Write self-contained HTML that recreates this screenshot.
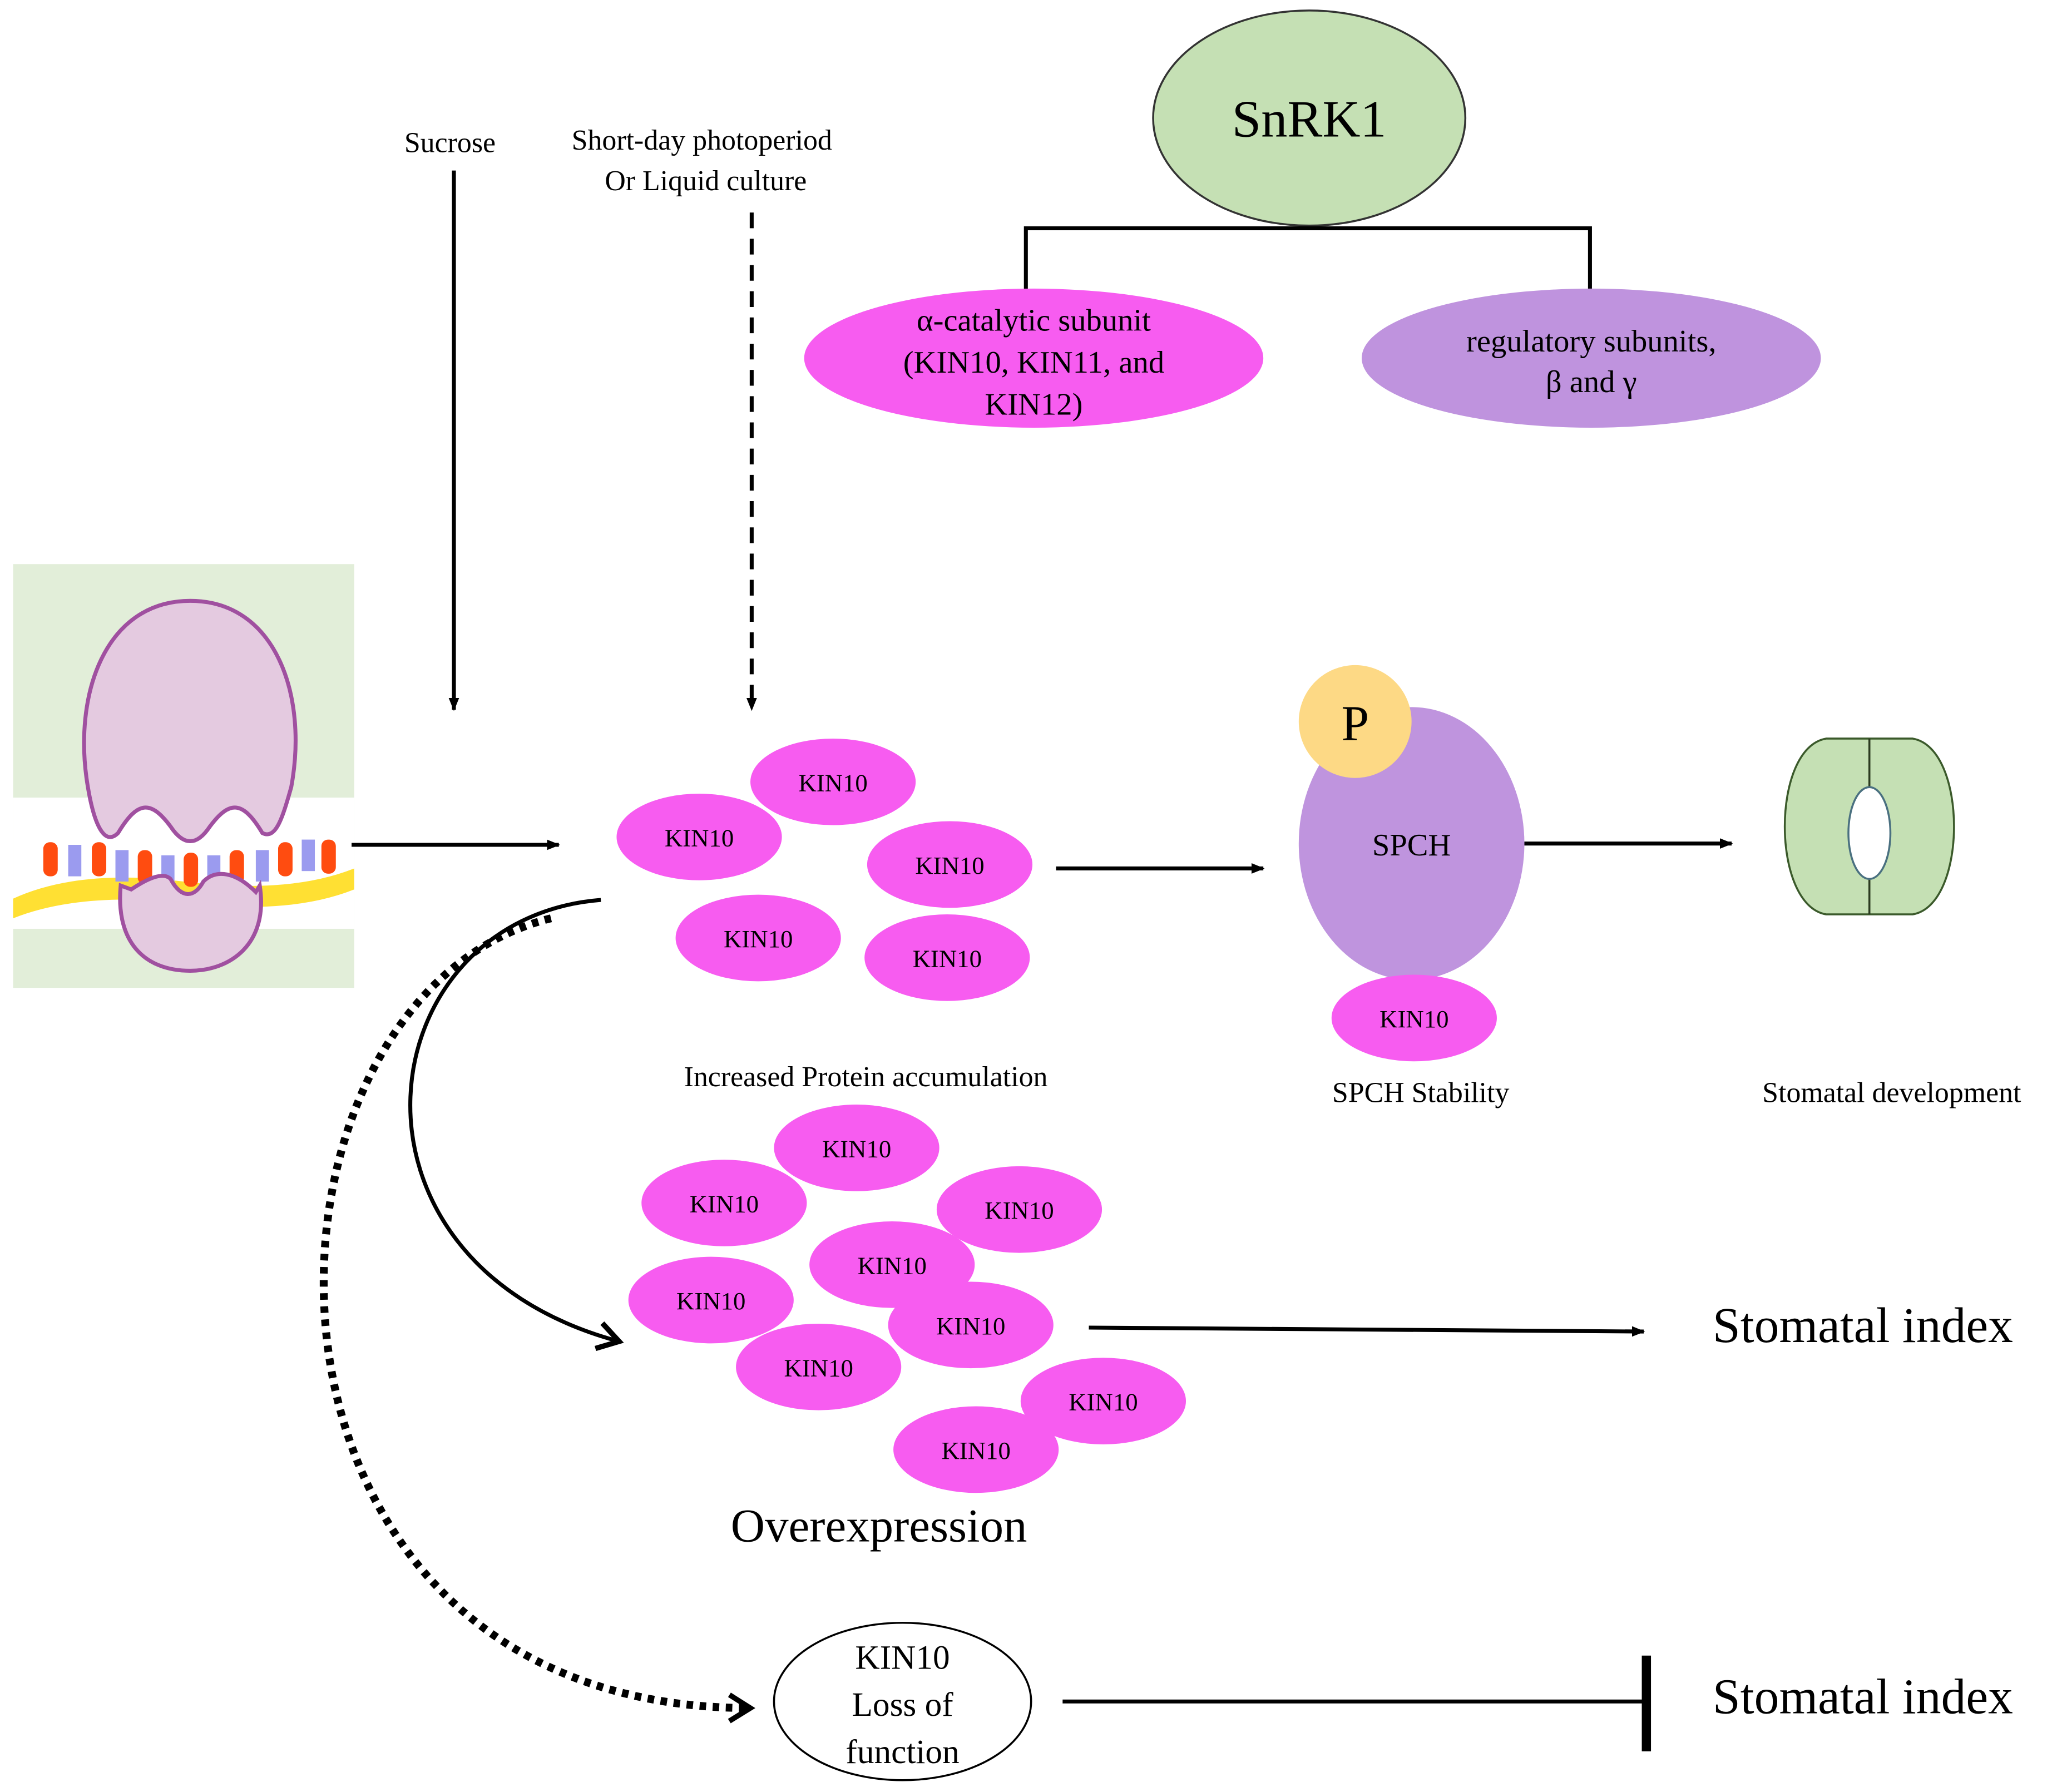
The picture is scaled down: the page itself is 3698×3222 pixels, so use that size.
<!DOCTYPE html>
<html><head><meta charset="utf-8"><style>html,body{margin:0;padding:0;background:#fff}svg{display:block}text{font-family:"Liberation Serif",serif}</style></head>
<body>
<svg width="3698" height="3222" viewBox="0 0 1568 1366" preserveAspectRatio="none" xmlns="http://www.w3.org/2000/svg">
<defs>
<marker id="ah" markerWidth="10" markerHeight="10" refX="9" refY="5" orient="auto" markerUnits="userSpaceOnUse"><path d="M0,1 L10,5 L0,9 z" fill="#000"/></marker>
<marker id="ao" markerWidth="24" markerHeight="24" refX="18" refY="12" orient="auto" markerUnits="userSpaceOnUse"><path d="M4,2 L20,12 L4,22" fill="none" stroke="#000" stroke-width="4"/></marker>
</defs>
<!-- membrane icon -->
<rect x="10" y="430" width="260" height="323" fill="#e2eed9"/>
<rect x="10" y="608" width="260" height="100" fill="#fff"/>
<path d="M10,685 Q60,662 140,672 Q220,682 270,662 L270,678 Q220,698 140,688 Q60,680 10,700 z" fill="#ffe033"/>
<path d="M67,600 C55,530 80,458 145,458 C210,458 235,530 222,600 C215,625 210,640 200,635 C185,610 175,610 160,630 C150,645 140,645 130,630 C115,610 105,610 90,635 C80,645 72,630 67,600 z" fill="#e4cae0" stroke="#a050a0" stroke-width="3"/>
<g fill="#ff4c10">
<rect x="33" y="642" width="11" height="26" rx="5"/><rect x="70" y="642" width="11" height="26" rx="5"/><rect x="105" y="648" width="11" height="26" rx="5"/><rect x="140" y="650" width="11" height="26" rx="5"/><rect x="175" y="648" width="11" height="26" rx="5"/><rect x="212" y="642" width="11" height="26" rx="5"/><rect x="245" y="640" width="11" height="26" rx="5"/>
</g>
<g fill="#9b9bef">
<rect x="52" y="644" width="10" height="24"/><rect x="88" y="648" width="10" height="24"/><rect x="123" y="652" width="10" height="24"/><rect x="158" y="652" width="10" height="24"/><rect x="195" y="648" width="10" height="24"/><rect x="230" y="640" width="10" height="24"/>
</g>
<path d="M92,675 L100,678 C115,668 125,665 130,670 C138,685 148,685 155,672 C165,662 180,665 195,680 L198,675 C205,720 175,740 145,740 C110,740 88,718 92,675 z" fill="#e4cae0" stroke="#a050a0" stroke-width="3"/>
<!-- SnRK1 -->
<ellipse cx="998" cy="90" rx="119" ry="82" fill="#c5e0b4" stroke="#333" stroke-width="1.5"/>
<text x="998" y="104" font-size="40" text-anchor="middle">SnRK1</text>
<path d="M782,222 V174 H1212 V222" fill="none" stroke="#000" stroke-width="3"/>
<ellipse cx="788" cy="273" rx="175" ry="53" fill="#f75cf0"/>
<g font-size="24" text-anchor="middle"><text x="788" y="252">α-catalytic subunit</text><text x="788" y="284">(KIN10, KIN11, and</text><text x="788" y="316">KIN12)</text></g>
<ellipse cx="1213" cy="273" rx="175" ry="53" fill="#bf93de"/>
<g font-size="24" text-anchor="middle"><text x="1213" y="268">regulatory subunits,</text><text x="1213" y="299">β and γ</text></g>
<!-- inputs -->
<g font-size="22" text-anchor="middle"><text x="343" y="116">Sucrose</text><text x="535" y="114">Short-day photoperiod</text><text x="538" y="145">Or Liquid culture</text></g>
<g stroke="#000" stroke-width="3" fill="none">
<line x1="346" y1="130" x2="346" y2="541" marker-end="url(#ah)"/>
<line x1="573" y1="162" x2="573" y2="541" stroke-dasharray="12 8" marker-end="url(#ah)"/>
<line x1="268" y1="644" x2="426" y2="644" marker-end="url(#ah)"/>
<line x1="805" y1="662" x2="963" y2="662" marker-end="url(#ah)"/>
<line x1="1162" y1="643" x2="1320" y2="643" marker-end="url(#ah)"/>
<line x1="830" y1="1012" x2="1253" y2="1015" marker-end="url(#ah)"/>
<path d="M458,686 C280,700 245,960 470,1022" stroke-width="3" marker-end="url(#ao)"/>
<path d="M420,700 C175,760 160,1300 570,1302" stroke-width="6" stroke-dasharray="5 5" marker-end="url(#ao)"/>
<line x1="810" y1="1297" x2="1255" y2="1297"/>
<line x1="1255" y1="1262" x2="1255" y2="1335" stroke-width="7"/>
</g>
<!-- KIN10 clusters -->
<g fill="#f75cf0">
<ellipse cx="635" cy="596" rx="63" ry="33"/><ellipse cx="533" cy="638" rx="63" ry="33"/><ellipse cx="724" cy="659" rx="63" ry="33"/><ellipse cx="578" cy="715" rx="63" ry="33"/><ellipse cx="722" cy="730" rx="63" ry="33"/>
<ellipse cx="653" cy="875" rx="63" ry="33"/><ellipse cx="552" cy="917" rx="63" ry="33"/><ellipse cx="777" cy="922" rx="63" ry="33"/><ellipse cx="680" cy="964" rx="63" ry="33"/><ellipse cx="542" cy="991" rx="63" ry="33"/><ellipse cx="740" cy="1010" rx="63" ry="33"/><ellipse cx="624" cy="1042" rx="63" ry="33"/><ellipse cx="841" cy="1068" rx="63" ry="33"/><ellipse cx="744" cy="1105" rx="63" ry="33"/>
</g>
<g font-size="19" text-anchor="middle">
<text x="635" y="603">KIN10</text><text x="533" y="645">KIN10</text><text x="724" y="666">KIN10</text><text x="578" y="722">KIN10</text><text x="722" y="737">KIN10</text>
<text x="653" y="882">KIN10</text><text x="552" y="924">KIN10</text><text x="777" y="929">KIN10</text><text x="680" y="971">KIN10</text><text x="542" y="998">KIN10</text><text x="740" y="1017">KIN10</text><text x="624" y="1049">KIN10</text><text x="841" y="1075">KIN10</text><text x="744" y="1112">KIN10</text>
</g>
<!-- SPCH -->
<ellipse cx="1076" cy="643" rx="86" ry="104" fill="#bf94de"/>
<circle cx="1033" cy="550" r="43" fill="#fdd985"/>
<text x="1033" y="564" font-size="38" text-anchor="middle">P</text>
<text x="1076" y="652" font-size="24" text-anchor="middle">SPCH</text>
<ellipse cx="1078" cy="776" rx="63" ry="33" fill="#f75cf0"/>
<text x="1078" y="783" font-size="19" text-anchor="middle">KIN10</text>
<!-- stoma -->
<path d="M1392,563 H1458 C1500,570 1500,690 1458,697 H1392 C1350,690 1350,570 1392,563 z" fill="#c5e0b4" stroke="#3b5a2b" stroke-width="1.5"/>
<line x1="1425" y1="563" x2="1425" y2="697" stroke="#2b3b20" stroke-width="1.5"/>
<ellipse cx="1425" cy="635" rx="16" ry="35" fill="#fff" stroke="#4a7080" stroke-width="1.5"/>
<!-- labels -->
<g font-size="22" text-anchor="middle">
<text x="1083" y="840">SPCH Stability</text><text x="1442" y="840">Stomatal development</text><text x="660" y="828">Increased Protein accumulation</text>
</g>
<text x="1420" y="1023" font-size="38" text-anchor="middle">Stomatal index</text>
<text x="1420" y="1306" font-size="38" text-anchor="middle">Stomatal index</text>
<text x="670" y="1175" font-size="36" text-anchor="middle">Overexpression</text>
<ellipse cx="688" cy="1297" rx="98" ry="60" fill="#fff" stroke="#000" stroke-width="1.5"/>
<g font-size="26" text-anchor="middle"><text x="688" y="1272">KIN10</text><text x="688" y="1308">Loss of</text><text x="688" y="1344">function</text></g>
</svg>
</body></html>
